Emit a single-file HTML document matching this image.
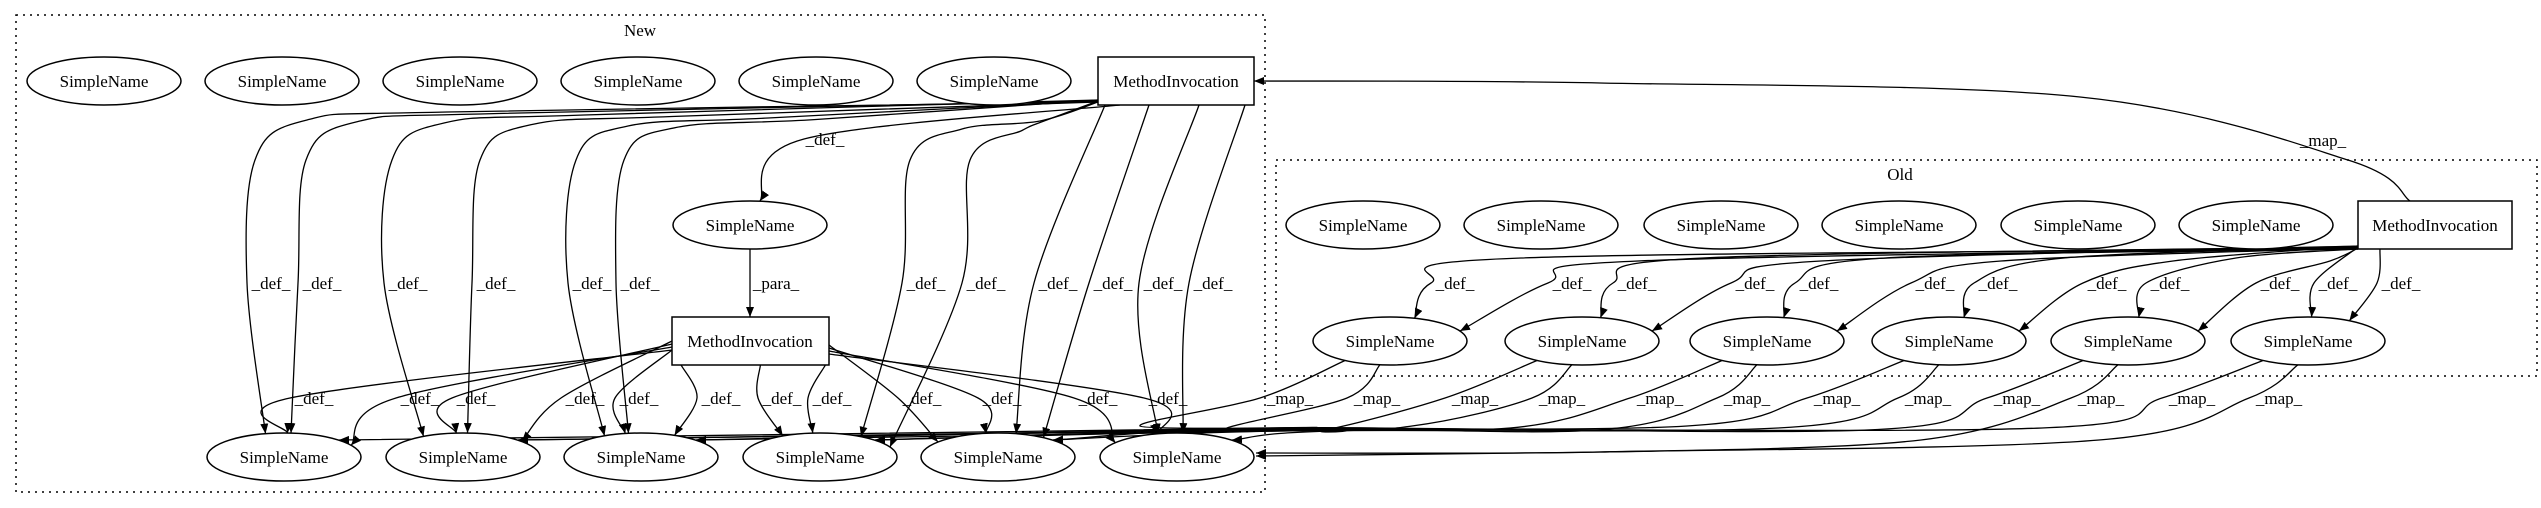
<!DOCTYPE html>
<html><head><meta charset="utf-8"><style>
html,body{margin:0;padding:0;background:#fff;width:2541px;height:508px;overflow:hidden}
svg text{font-family:"Liberation Serif","Times New Roman",serif;font-size:17px;fill:#000}
</style></head><body>
<svg id="g" width="2541" height="508" viewBox="0 0 2541 508" xmlns="http://www.w3.org/2000/svg">
<defs><marker id="a" viewBox="0 0 10 8" refX="10" refY="4" markerWidth="10" markerHeight="8" markerUnits="userSpaceOnUse" orient="auto"><path d="M0,0 L10,4 L0,8 z" fill="#000"/></marker></defs>
<rect x="16" y="15" width="1249" height="477" fill="none" stroke="#000" stroke-width="1.5" stroke-dasharray="2,5"/>
<rect x="1276" y="160" width="1261" height="216" fill="none" stroke="#000" stroke-width="1.5" stroke-dasharray="2,5"/>
<text x="640" y="36" text-anchor="middle">New</text>
<text x="1900" y="180" text-anchor="middle">Old</text>
<g id="edges" fill="none" stroke="#000" stroke-width="1.3"></g>
<g fill="#fff" stroke="#000" stroke-width="1.5">
<ellipse cx="104" cy="81" rx="77" ry="24"/><ellipse cx="282" cy="81" rx="77" ry="24"/><ellipse cx="460" cy="81" rx="77" ry="24"/><ellipse cx="638" cy="81" rx="77" ry="24"/><ellipse cx="816" cy="81" rx="77" ry="24"/><ellipse cx="994" cy="81" rx="77" ry="24"/>
<rect x="1098" y="57" width="156" height="48"/>
<ellipse cx="750" cy="225" rx="77" ry="24"/>
<rect x="672" y="317" width="157" height="48"/>
<ellipse cx="284" cy="457" rx="77" ry="24"/><ellipse cx="463" cy="457" rx="77" ry="24"/><ellipse cx="641" cy="457" rx="77" ry="24"/><ellipse cx="820" cy="457" rx="77" ry="24"/><ellipse cx="998" cy="457" rx="77" ry="24"/><ellipse cx="1177" cy="457" rx="77" ry="24"/>
<ellipse cx="1363" cy="225" rx="77" ry="24"/><ellipse cx="1541" cy="225" rx="77" ry="24"/><ellipse cx="1721" cy="225" rx="77" ry="24"/><ellipse cx="1899" cy="225" rx="77" ry="24"/><ellipse cx="2078" cy="225" rx="77" ry="24"/><ellipse cx="2256" cy="225" rx="77" ry="24"/>
<rect x="2358" y="201" width="154" height="48"/>
<ellipse cx="1390" cy="341" rx="77" ry="24"/><ellipse cx="1582" cy="341" rx="77" ry="24"/><ellipse cx="1767" cy="341" rx="77" ry="24"/><ellipse cx="1949" cy="341" rx="77" ry="24"/><ellipse cx="2128" cy="341" rx="77" ry="24"/><ellipse cx="2308" cy="341" rx="77" ry="24"/>
</g>
<g text-anchor="middle">
<text x="104" y="87">SimpleName</text><text x="282" y="87">SimpleName</text><text x="460" y="87">SimpleName</text><text x="638" y="87">SimpleName</text><text x="816" y="87">SimpleName</text><text x="994" y="87">SimpleName</text>
<text x="1176" y="87">MethodInvocation</text>
<text x="750" y="231">SimpleName</text>
<text x="750" y="347">MethodInvocation</text>
<text x="284" y="463">SimpleName</text><text x="463" y="463">SimpleName</text><text x="641" y="463">SimpleName</text><text x="820" y="463">SimpleName</text><text x="998" y="463">SimpleName</text><text x="1177" y="463">SimpleName</text>
<text x="1363" y="231">SimpleName</text><text x="1541" y="231">SimpleName</text><text x="1721" y="231">SimpleName</text><text x="1899" y="231">SimpleName</text><text x="2078" y="231">SimpleName</text><text x="2256" y="231">SimpleName</text>
<text x="2435" y="231">MethodInvocation</text>
<text x="1390" y="347">SimpleName</text><text x="1582" y="347">SimpleName</text><text x="1767" y="347">SimpleName</text><text x="1949" y="347">SimpleName</text><text x="2128" y="347">SimpleName</text><text x="2308" y="347">SimpleName</text>
<text x="2323" y="146">_map_</text>
<text x="825" y="145">_def_</text>
<text x="776" y="289">_para_</text>
<text x="271" y="289">_def_</text><text x="322" y="289">_def_</text><text x="408" y="289">_def_</text><text x="496" y="289">_def_</text><text x="592" y="289">_def_</text><text x="640" y="289">_def_</text><text x="926" y="289">_def_</text><text x="986" y="289">_def_</text><text x="1058" y="289">_def_</text><text x="1113" y="289">_def_</text><text x="1163" y="289">_def_</text><text x="1213" y="289">_def_</text>
<text x="314" y="404">_def_</text><text x="420" y="404">_def_</text><text x="476" y="404">_def_</text><text x="585" y="404">_def_</text><text x="639" y="404">_def_</text><text x="721" y="404">_def_</text><text x="782" y="404">_def_</text><text x="832" y="404">_def_</text><text x="922" y="404">_def_</text><text x="1002" y="404">_def_</text><text x="1098" y="404">_def_</text><text x="1168" y="404">_def_</text>
<text x="1455" y="289">_def_</text><text x="1572" y="289">_def_</text><text x="1637" y="289">_def_</text><text x="1755" y="289">_def_</text><text x="1819" y="289">_def_</text><text x="1935" y="289">_def_</text><text x="1998" y="289">_def_</text><text x="2107" y="289">_def_</text><text x="2170" y="289">_def_</text><text x="2280" y="289">_def_</text><text x="2338" y="289">_def_</text><text x="2401" y="289">_def_</text>
<text x="1290" y="404">_map_</text><text x="1377" y="404">_map_</text><text x="1475" y="404">_map_</text><text x="1562" y="404">_map_</text><text x="1660" y="404">_map_</text><text x="1747" y="404">_map_</text><text x="1837" y="404">_map_</text><text x="1928" y="404">_map_</text><text x="2017" y="404">_map_</text><text x="2101" y="404">_map_</text><text x="2192" y="404">_map_</text><text x="2279" y="404">_map_</text>
</g>
</svg>
<script>
(function(){
var G=document.getElementById('edges');
function path(pts){
 var d='M'+pts[0][0]+','+pts[0][1];
 for(var i=0;i<pts.length-1;i++){
  var p0=pts[i-1]||pts[i],p1=pts[i],p2=pts[i+1],p3=pts[i+2]||pts[i+1];
  var c1=[p1[0]+(p2[0]-p0[0])/6,p1[1]+(p2[1]-p0[1])/6];
  var c2=[p2[0]-(p3[0]-p1[0])/6,p2[1]-(p3[1]-p1[1])/6];
  d+=' C'+c1[0].toFixed(1)+','+c1[1].toFixed(1)+' '+c2[0].toFixed(1)+','+c2[1].toFixed(1)+' '+p2[0].toFixed(1)+','+p2[1].toFixed(1);
 }
 var e=document.createElementNS('http://www.w3.org/2000/svg','path');
 e.setAttribute('d',d);e.setAttribute('marker-end','url(#a)');G.appendChild(e);
}
function etop(cx,cy,dx){dx=Math.max(-70,Math.min(70,dx));return [cx+dx,cy-24*Math.sqrt(1-(dx/77)*(dx/77))];}
var B=[284,463,641,820,998,1177];
var TL=[271,322,408,496,592,640,926,986,1058,1113,1163,1213];
var ML=[314,420,476,585,639,721,782,832,922,1002,1098,1168];
for(var i=0;i<12;i++){
 var n=B[i>>1],lx=TL[i]-24,t=etop(n,457,(lx-n)*0.5);
 var far=lx<1000;
 var s=far?[1098,102-(i%3)]:[Math.max(1105,Math.min(1245,lx+60)),105];
 if(far){
  var y0=112+i*1.5;
  path([s,[Math.min(lx+200,1040),y0],[lx+60,y0+8],[lx+8,160],[lx,283],t]);
 } else path([s,[lx,283],t]);
 var lx2=ML[i]-24,t2=etop(n,457,(lx2-n)*0.6);
 var s2=lx2<672?[672,350-(i%4)*3]:(lx2>829?[829,345+(i%4)*3]:[lx2+ (lx2-750)*0.3,365]);
 path([s2,[lx2,398],t2]);
}
path([[1120,105],[804,139],[760,201]]);
path([[750,249],[750,317]]);
var O=[1390,1582,1767,1949,2128,2308];
var OL=[1455,1572,1637,1755,1819,1935,1998,2107,2170,2280,2338,2401];
for(var i=0;i<12;i++){
 var n=O[i>>1],lx=OL[i]-24,t=etop(n,341,(lx-n)*0.6);
 var s=(lx<2350)?[2358,249-(i%4)]:[2380,249];
 var m=(lx<2300)?[Math.min(lx+90,2330),258+ (i%2)*3]:null;
 path(m?[s,m,[lx,283],t]:[s,[lx,283],t]);
}
var MAPL=[1290,1377,1475,1562,1660,1747,1837,1928,2017,2101,2192,2279];
for(var i=0;i<12;i++){
 var k=i>>1,src=O[k],lx=MAPL[i]-30;
 var s=etop(src,341,(i%2?-10:-45));s=[s[0],341+ (341-s[1])];
 var tgt,pts;
 if(i===11||i===9){tgt=[1256,455+(i===9?-2:1)];pts=[s,[lx,398],[lx-150,440],[1600,452],tgt];}
 else{var j=(i%2)?(k+1)%6:k;var tn=B[j];tgt=[tn+55,440];
  pts=[s,[lx,398],[lx-120,426+(i%3)*2],[Math.max(tn+200,1280),428+(i%4)],tgt];}
 path(pts);
}
path([[2410,201],[2348,160],[2080,97],[1600,83],[1254,81]]);
})();
</script>
</body></html>
